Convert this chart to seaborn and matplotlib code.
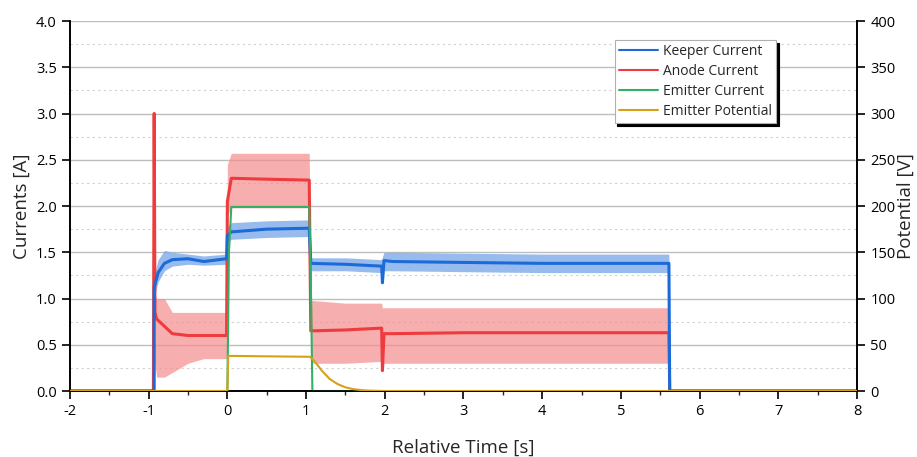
import numpy as np
import pandas as pd
import matplotlib
matplotlib.use('Agg')
import matplotlib.pyplot as plt
from matplotlib.ticker import MultipleLocator, FormatStrFormatter
import seaborn as sns

# Keeper current [A]
t_keeper = [-2, -0.93, -0.93, -0.88, -0.8, -0.7, -0.5, -0.3, -0.01, 0.0, 0.05, 0.5, 1.04, 1.06, 1.5, 1.96, 1.97, 1.99, 2.1, 3, 4, 5, 5.61, 5.62, 8]
keeper_mean = [0, 0, 1.12, 1.28, 1.38, 1.42, 1.43, 1.40, 1.43, 1.68, 1.72, 1.75, 1.76, 1.38, 1.37, 1.35, 1.17, 1.41, 1.40, 1.39, 1.38, 1.38, 1.38, 0, 0]
keeper_lo = [0, 0, 1.02, 1.18, 1.30, 1.35, 1.37, 1.36, 1.37, 1.60, 1.64, 1.66, 1.67, 1.30, 1.30, 1.28, 1.15, 1.30, 1.30, 1.29, 1.28, 1.28, 1.28, 0, 0]
keeper_hi = [0, 0, 1.25, 1.42, 1.52, 1.50, 1.48, 1.46, 1.48, 1.78, 1.82, 1.84, 1.85, 1.44, 1.44, 1.42, 1.45, 1.50, 1.50, 1.49, 1.48, 1.48, 1.48, 0, 0]

# Anode current [A]
t_anode = [-2, -0.94, -0.93, -0.92, -0.9, -0.8, -0.7, -0.5, -0.3, -0.01, 0.0, 0.05, 0.5, 1.04, 1.06, 1.5, 1.96, 1.97, 1.99, 2.1, 3, 4, 5, 5.61, 5.62, 8]
anode_mean = [0, 0, 3.0, 0.85, 0.78, 0.70, 0.62, 0.60, 0.60, 0.60, 2.05, 2.30, 2.29, 2.28, 0.65, 0.66, 0.68, 0.22, 0.62, 0.62, 0.63, 0.63, 0.63, 0.63, 0, 0]
anode_lo = [0, 0, 0, 0.30, 0.15, 0.15, 0.20, 0.30, 0.35, 0.35, 1.90, 1.98, 1.98, 1.98, 0.30, 0.30, 0.32, 0.22, 0.30, 0.30, 0.30, 0.30, 0.30, 0.30, 0, 0]
anode_hi = [0, 0, 0, 1.05, 1.00, 1.00, 0.85, 0.85, 0.85, 0.85, 2.45, 2.57, 2.57, 2.57, 0.98, 0.95, 0.95, 0.90, 0.90, 0.90, 0.90, 0.90, 0.90, 0.90, 0, 0]

# Emitter current [A]
t_emitter = [-2, 0.0, 0.02, 0.05, 1.04, 1.06, 1.08, 8]
emitter_cur = [0, 0, 1.5, 1.99, 1.99, 1.2, 0, 0]

# Emitter potential [V]
t_pot = [-2, 0.0, 0.01, 0.5, 1.05, 1.1, 1.2, 1.3, 1.4, 1.5, 1.6, 1.7, 1.8, 2.0, 8]
emitter_pot = [0, 0, 38, 37.5, 37, 33, 22, 13, 7.5, 4, 2, 1, 0.4, 0, 0]

labels = ['Keeper Current', 'Anode Current', 'Emitter Current', 'Emitter Potential']
c_blue, c_red, c_green, c_gold = '#1c6ad8', '#ee3b3d', '#34b065', '#d6a11a'

sns.set_style('white')
plt.rcParams['font.family'] = ['Open Sans', 'DejaVu Sans']
plt.rcParams['axes.unicode_minus'] = False

fig = plt.figure(figsize=(9.17, 4.57), dpi=100)
ax = fig.add_axes([0.0763, 0.1444, 0.8583, 0.8096])
ax2 = ax.twinx()

# noise envelopes
ax.fill_between(t_anode, anode_lo, anode_hi, color='#f58c8c', alpha=0.7, lw=0, zorder=2)
ax.fill_between(t_keeper, keeper_lo, keeper_hi, color='#7eaaea', alpha=0.8, lw=0, zorder=2)

sns.lineplot(x=t_keeper, y=keeper_mean, ax=ax, color=c_blue, lw=2.2, estimator=None, sort=False, label=labels[0], zorder=4)
sns.lineplot(x=t_anode, y=anode_mean, ax=ax, color=c_red, lw=2.2, estimator=None, sort=False, label=labels[1], zorder=3)
sns.lineplot(x=t_emitter, y=emitter_cur, ax=ax, color=c_green, lw=1.5, estimator=None, sort=False, label=labels[2], zorder=5)
sns.lineplot(x=t_pot, y=emitter_pot, ax=ax2, color=c_gold, lw=1.5, estimator=None, sort=False, label=labels[3], zorder=5)

ax.set_xlim(-2, 8)
ax.set_ylim(0, 4)
ax2.set_ylim(0, 400)
ax.xaxis.set_major_locator(MultipleLocator(1))
ax.xaxis.set_minor_locator(MultipleLocator(0.5))
ax.yaxis.set_major_locator(MultipleLocator(0.5))
ax.yaxis.set_minor_locator(MultipleLocator(0.25))
ax.yaxis.set_major_formatter(FormatStrFormatter('%.1f'))
ax2.yaxis.set_major_locator(MultipleLocator(50))

ax.grid(True, which='major', axis='y', color='#bdbdbd', lw=1.0)
ax.grid(True, which='minor', axis='y', color='#d0d0d0', lw=0.8, ls=(0, (2, 3)))
ax.grid(False, axis='x')
ax.set_axisbelow(True)

for a in (ax, ax2):
    a.spines['top'].set_visible(False)
    for s in ('left', 'right', 'bottom'):
        a.spines[s].set_color('black')
        a.spines[s].set_linewidth(1.2)
ax.tick_params(which='major', direction='out', length=6, width=1.2, labelsize=10.5, colors='black', bottom=True, left=True)
ax.tick_params(which='minor', direction='out', length=3, width=1.0, bottom=True, left=True)
ax.tick_params(axis='y', which='minor', left=False)
ax2.tick_params(which='major', direction='out', length=6, width=1.2, labelsize=10.5, colors='black', right=True)

ax.set_xlabel('Relative Time [s]', fontsize=13.5, labelpad=14)
ax.set_ylabel('Currents [A]', fontsize=13.5, labelpad=4)
ax2.set_ylabel('Potential [V]', fontsize=13.5, labelpad=1)

h1, l1 = ax.get_legend_handles_labels()
h2, l2 = ax2.get_legend_handles_labels()
ax.get_legend().remove()
ax2.get_legend().remove()
leg = ax2.legend(h1 + h2, l1 + l2, loc='upper left', bbox_to_anchor=(0.692, 0.949), fontsize=10,
                 frameon=True, fancybox=False, shadow={'color': 'black', 'alpha': 1}, framealpha=1,
                 borderpad=0.3, labelspacing=0.35, handlelength=2.8, handletextpad=0.4, borderaxespad=0)
leg.get_frame().set_edgecolor('#b0b0b0')
leg.get_frame().set_linewidth(0.8)
for line in leg.get_lines():
    line.set_linewidth(1.5)

fig.savefig('out.png', dpi=100)
